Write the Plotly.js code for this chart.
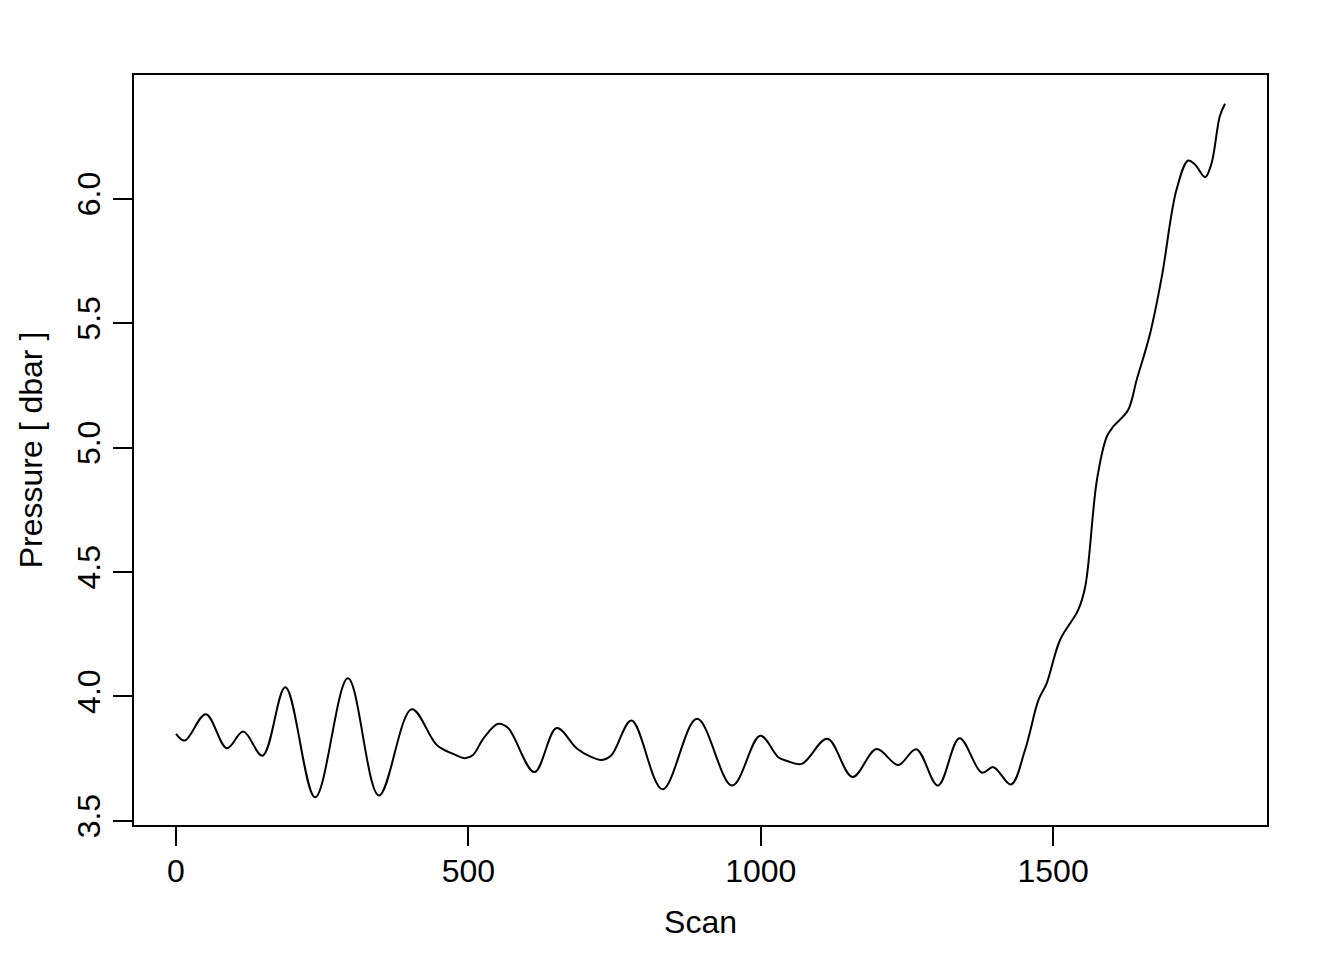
<!DOCTYPE html>
<html>
<head>
<meta charset="utf-8">
<script src="https://cdn.plot.ly/plotly-3.0.1.min.js"></script>
<style>html,body{margin:0;padding:0;background:#fff;}#chart{width:1344px;height:960px;}</style>
</head>
<body>
<div id="chart"></div>
<script>
const scan = [0, 15, 51, 87, 115, 148, 187, 238, 294, 347, 403, 446, 474, 494, 508, 526, 551, 568, 613, 651, 685, 708, 728, 745, 779, 832, 891, 951, 999, 1030, 1044, 1070, 1114, 1157, 1198, 1235, 1266, 1303, 1340, 1378, 1398, 1428, 1452, 1475, 1489, 1512, 1543, 1555, 1575, 1592, 1603, 1628, 1643, 1666, 1686, 1711, 1731, 1743, 1760, 1771, 1785, 1794];
const pressure = [3.85, 3.823, 3.929, 3.792, 3.859, 3.762, 4.037, 3.595, 4.073, 3.602, 3.949, 3.805, 3.769, 3.752, 3.765, 3.832, 3.890, 3.873, 3.696, 3.873, 3.792, 3.759, 3.745, 3.765, 3.903, 3.627, 3.910, 3.642, 3.842, 3.756, 3.742, 3.729, 3.830, 3.676, 3.789, 3.725, 3.788, 3.642, 3.832, 3.694, 3.716, 3.646, 3.785, 3.986, 4.053, 4.228, 4.348, 4.442, 4.871, 5.045, 5.085, 5.15, 5.273, 5.460, 5.688, 6.036, 6.154, 6.137, 6.087, 6.143, 6.331, 6.382];
const xTicks = [0, 500, 1000, 1500];
const yTicks = [3.5, 4.0, 4.5, 5.0, 5.5, 6.0];
const xLabel = "Scan";
const yLabel = "Pressure [ dbar ]";

const font = {family: "Liberation Sans, Arial, sans-serif", size: 32, color: "#000"};
const trace = {
  x: scan, y: pressure, type: "scatter", mode: "lines",
  line: {color: "#000", width: 2, shape: "spline", smoothing: 1},
  hoverinfo: "skip"
};
const layout = {
  width: 1344, height: 960,
  margin: {l: 134, r: 77, t: 75, b: 135},
  paper_bgcolor: "#fff", plot_bgcolor: "#fff",
  font: font,
  showlegend: false,
  xaxis: {
    range: [-71.8, 1865.8], tickvals: xTicks, ticktext: xTicks.map(String),
    ticks: "outside", ticklen: 19, tickwidth: 2, tickcolor: "#000",
    showline: true, linecolor: "#000", linewidth: 2, mirror: true,
    showgrid: false, zeroline: false,
    ticklabelstandoff: -2,
    tickfont: font,
    title: {text: xLabel, font: font, standoff: 22}
  },
  yaxis: {
    range: [3.4835, 6.4975], tickvals: yTicks, ticktext: yTicks.map(v => v.toFixed(1)),
    ticks: "outside", ticklen: 19, tickwidth: 2, tickcolor: "#000",
    showline: true, linecolor: "#000", linewidth: 2, mirror: true,
    showgrid: false, zeroline: false,
    tickangle: -90,
    ticklabelstandoff: 0,
    tickfont: font,
    title: {text: yLabel, font: font, standoff: 19}
  }
};
Plotly.newPlot("chart", [trace], layout, {displayModeBar: false, staticPlot: true});
</script>
</body>
</html>
